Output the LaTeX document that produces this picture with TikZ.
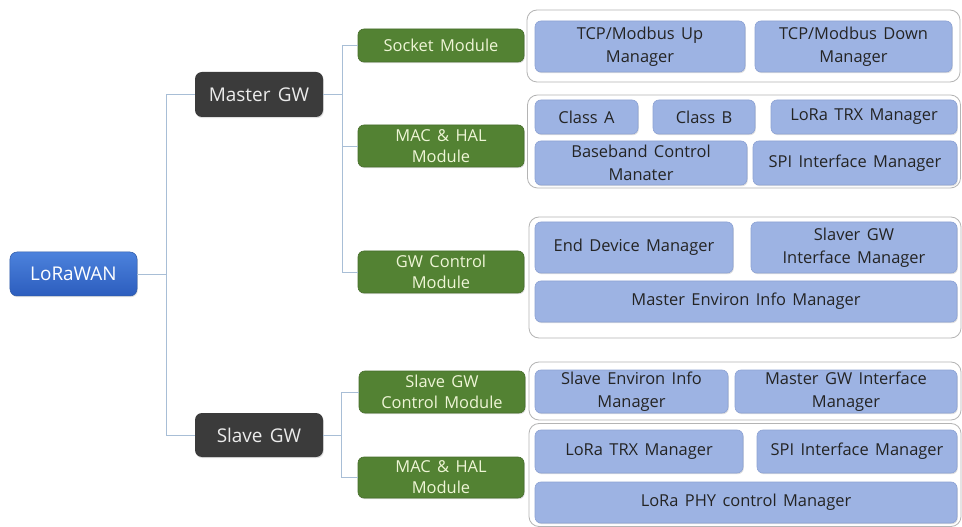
\documentclass[tikz,border=0pt]{standalone}
\usepackage{fontspec}
\setmainfont{Open Sans}[WordSpace=1.5]
\usetikzlibrary{shadows}
\definecolor{itemfill}{HTML}{9DB3E3}
\definecolor{itemdraw}{HTML}{8CA2D4}
\definecolor{modgreen}{HTML}{538233}
\definecolor{modtext}{HTML}{EEF5D6}
\definecolor{gwdark}{HTML}{3B3B3B}
\definecolor{rootblue}{HTML}{3A6FD0}
\definecolor{roottop}{HTML}{4C82DC}
\definecolor{rootbot}{HTML}{2C5DBE}
\definecolor{groupline}{HTML}{B4B4B4}
\definecolor{treeline}{HTML}{A8BED6}
\tikzset{
  box/.style={rounded corners=6bp, inner sep=1bp, align=center},
  item/.style={box, fill=itemfill, draw=itemdraw, line width=0.6bp,
    text=black!86, font=\fontsize{16.5}{23}\selectfont,
    drop shadow={opacity=0.25, shadow xshift=0.8bp, shadow yshift=-1.2bp}},
  module/.style={box, fill=modgreen, draw=modgreen!85!black, line width=0.6bp,
    text=modtext, font=\fontsize{16.5}{21}\selectfont,
    drop shadow={opacity=0.25, shadow xshift=0.8bp, shadow yshift=-1.2bp}},
  gw/.style={box, rounded corners=7bp, fill=gwdark, text=white!92!black,
    font=\fontsize{19}{22}\selectfont,
    drop shadow={opacity=0.25, shadow xshift=0.8bp, shadow yshift=-1.2bp}},
  root/.style={box, rounded corners=7bp, top color=roottop, bottom color=rootbot,
    draw=rootblue!80!black, line width=0.5bp, text=white,
    font=\fontsize{19}{22}\selectfont,
    drop shadow={opacity=0.25, shadow xshift=0.8bp, shadow yshift=-1.2bp}},
  group/.style={rounded corners=10bp, fill=white, draw=groupline, line width=0.8bp},
  tree/.style={draw=treeline, line width=0.9bp},
}
\begin{document}
\begin{tikzpicture}[x=1bp, y=-1bp]
\useasboundingbox (0,0) rectangle (962,527);
\fill[white] (0,0) rectangle (962,527);

% group frames
\node[group, minimum width=433bp, minimum height=72bp] (g1) at (743.5,46) {};
\node[group, minimum width=433bp, minimum height=93bp] (g2) at (744,141.5) {};
\node[group, minimum width=432bp, minimum height=121bp] (g3) at (745,277.5) {};
\node[group, minimum width=432bp, minimum height=58bp] (g4) at (745,391) {};
\node[group, minimum width=432bp, minimum height=103bp] (g5) at (745,475) {};

% tree nodes
\node[root, minimum width=127bp, minimum height=44bp] (lora) at (73.5,274) {LoRaWAN};
\node[gw, minimum width=128bp, minimum height=45bp] (master) at (259,94.5) {Master GW};
\node[gw, minimum width=128bp, minimum height=44bp] (slave) at (259,435) {Slave GW};

\node[module, minimum width=166bp, minimum height=33bp] (socket) at (441,45.5) {Socket Module};
\node[module, minimum width=166bp, minimum height=42bp] (mac1) at (441,146) {MAC \& HAL\\Module};
\node[module, minimum width=166bp, minimum height=42bp] (gwctrl) at (441,272) {GW Control\\Module};
\node[module, minimum width=166bp, minimum height=42bp] (slavectrl) at (442,392) {Slave GW\\Control Module};
\node[module, minimum width=166bp, minimum height=41bp] (mac2) at (441,477.5) {MAC \& HAL\\Module};

% socket module items
\node[item, minimum width=210bp, minimum height=51bp] (up) at (640,46.5) {TCP/Modbus Up\\Manager};
\node[item, minimum width=197bp, minimum height=51bp] (down) at (853.5,46.5) {TCP/Modbus Down\\Manager};

% master MAC & HAL items
\node[item, minimum width=103bp, minimum height=34bp] (classa) at (586.5,117) {Class A};
\node[item, minimum width=102bp, minimum height=34bp] (classb) at (704,117) {Class B};
\node[item, minimum width=186bp, minimum height=34bp] (trx1) at (864,117) {LoRa TRX Manager};
\node[item, minimum width=212bp, minimum height=44bp] (baseband) at (641,163) {Baseband Control\\Manater};
\node[item, minimum width=204bp, minimum height=44bp] (spi1) at (855,163) {SPI Interface Manager};

% GW control items
\node[item, minimum width=198bp, minimum height=51bp] (enddev) at (634,247.5) {End Device Manager};
\node[item, minimum width=206bp, minimum height=51bp] (slaverif) at (854,247.5) {Slaver GW\\Interface Manager};
\node[item, minimum width=422bp, minimum height=41bp] (menv) at (746,301.5) {Master Environ Info Manager};

% slave GW control items
\node[item, minimum width=193bp, minimum height=43bp] (senv) at (631.5,391.5) {Slave Environ Info\\Manager};
\node[item, minimum width=222bp, minimum height=43bp] (mgwif) at (846,391.5) {Master GW Interface\\Manager};

% slave MAC & HAL items
\node[item, minimum width=208bp, minimum height=43bp] (trx2) at (639,451.5) {LoRa TRX Manager};
\node[item, minimum width=200bp, minimum height=43bp] (spi2) at (857,451.5) {SPI Interface Manager};
\node[item, minimum width=422bp, minimum height=41bp] (phy) at (746,502.5) {LoRa PHY control Manager};

% tree connectors
\coordinate (j1) at (166,0);
\coordinate (j2) at (342,0);
\coordinate (j3) at (341,0);
\draw[tree] (lora.east) -- (lora.east -| j1);
\draw[tree] (master.west) -- (master.west -| j1) -- (slave.west -| j1) -- (slave.west);
\draw[tree] (master.east) -- (master.east -| j2);
\draw[tree] (socket.west) -- (socket.west -| j2) -- (gwctrl.west -| j2) -- (gwctrl.west);
\draw[tree] (mac1.west) -- (mac1.west -| j2);
\draw[tree] (slave.east) -- (slave.east -| j3);
\draw[tree] (slavectrl.west) -- (slavectrl.west -| j3) -- (mac2.west -| j3) -- (mac2.west);
\end{tikzpicture}
\end{document}
